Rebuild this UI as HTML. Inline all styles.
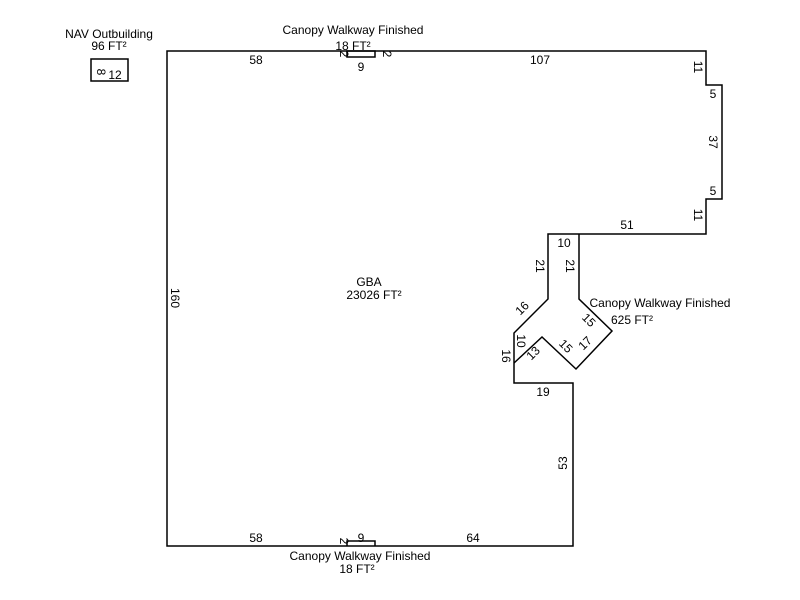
<!DOCTYPE html>
<html><head><style>html,body{margin:0;padding:0;background:#fff}svg{display:block}text{font-family:"Liberation Sans",Arial,sans-serif;font-size:12px;fill:#000}</style></head>
<body>
<svg width="800" height="600" xmlns="http://www.w3.org/2000/svg">
<g fill="none" stroke="#000" stroke-width="1.5">
<path d="M167,51 L706,51 L706,85 L722,85 L722,199 L706,199 L706,234 L548,234 L548,299 L514,333 L514,383 L573,383 L573,546 L167,546 Z"/>
<path d="M579,234 L579,299 L612,331 L576,369 L542,337 L514,363"/>
<rect x="347" y="51" width="28" height="6"/>
<path d="M347,546 L347,541 L375,541 L375,546"/>
<rect x="91" y="59" width="37" height="22"/>
</g>
<g text-anchor="middle">
<text x="109" y="38">NAV Outbuilding</text>
<text x="109" y="50">96 FT²</text>
<text x="115" y="79">12</text>
<text x="97" y="72" transform="rotate(90 97 72)">8</text>
<text x="353" y="34">Canopy Walkway Finished</text>
<text x="353" y="50">18 FT²</text>
<text x="256" y="64">58</text>
<text x="361" y="71">9</text>
<text x="540" y="64">107</text>
<text x="340" y="54" transform="rotate(90 340 54)">2</text>
<text x="383" y="54" transform="rotate(90 383 54)">2</text>
<text x="694" y="67" transform="rotate(90 694 67)">11</text>
<text x="713" y="98">5</text>
<text x="709" y="142" transform="rotate(90 709 142)">37</text>
<text x="713" y="195">5</text>
<text x="694" y="215" transform="rotate(90 694 215)">11</text>
<text x="627" y="229">51</text>
<text x="564" y="247">10</text>
<text x="536" y="266" transform="rotate(90 536 266)">21</text>
<text x="566" y="266" transform="rotate(90 566 266)">21</text>
<text x="525" y="311" transform="rotate(-45 525 311)">16</text>
<text x="586" y="323" transform="rotate(45 586 323)">15</text>
<text x="660" y="307">Canopy Walkway Finished</text>
<text x="632" y="324">625 FT²</text>
<text x="517" y="341" transform="rotate(90 517 341)">10</text>
<text x="502" y="356" transform="rotate(90 502 356)">16</text>
<text x="536" y="356" transform="rotate(-45 536 356)">13</text>
<text x="563" y="349" transform="rotate(45 563 349)">15</text>
<text x="588" y="346" transform="rotate(-45 588 346)">17</text>
<text x="543" y="396">19</text>
<text x="567" y="463" transform="rotate(-90 567 463)">53</text>
<text x="369" y="286">GBA</text>
<text x="374" y="299">23026 FT²</text>
<text x="171" y="298" transform="rotate(90 171 298)">160</text>
<text x="256" y="542">58</text>
<text x="361" y="542">9</text>
<text x="473" y="542">64</text>
<text x="340" y="541" transform="rotate(90 340 541)">2</text>
<text x="360" y="560">Canopy Walkway Finished</text>
<text x="357" y="573">18 FT²</text>
</g>
</svg>
</body></html>
